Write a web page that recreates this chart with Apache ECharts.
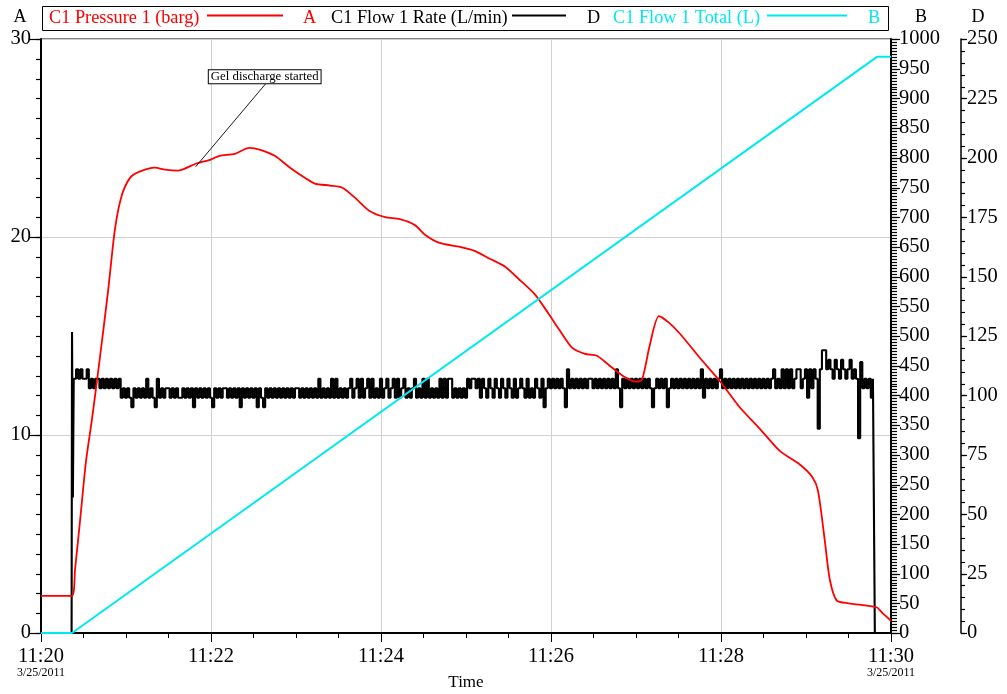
<!DOCTYPE html>
<html><head><meta charset="utf-8">
<script src="https://cdn.jsdelivr.net/npm/echarts/dist/echarts.min.js"></script>
<style>html,body{margin:0;padding:0;background:#fff}#c{width:1007px;height:694px}</style>
</head><body><div id="c"></div>
<script>
// ---------- data ----------
const seriesNames = ['C1 Pressure 1 (barg)', 'C1 Flow 1 Rate (L/min)', 'C1 Flow 1 Total (L)'];
const seriesAxisLetters = ['A', 'D', 'B'];
const xTickLabels = ['11:20', '11:22', '11:24', '11:26', '11:28', '11:30'];
const dateLabel = '3/25/2011';
const xAxisTitle = 'Time';

// minutes after 11:20
const pressureTimes = [0, 0.36, 0.40, 0.46, 0.53, 0.60, 0.69, 0.79, 0.87, 0.95, 1.05, 1.16, 1.34, 1.46, 1.61, 1.82, 1.99, 2.10, 2.28, 2.45, 2.58, 2.75, 2.93, 3.10, 3.22, 3.40, 3.54, 3.69, 3.87, 4.05, 4.22, 4.40, 4.52, 4.69, 4.93, 5.10, 5.28, 5.46, 5.64, 5.81, 5.96, 6.10, 6.25, 6.40, 6.54, 6.69, 6.84, 6.99, 7.07, 7.16, 7.27, 7.38, 7.52, 7.75, 7.99, 8.22, 8.46, 8.69, 8.93, 9.07, 9.14, 9.22, 9.28, 9.36, 9.50, 9.83, 9.90, 10];
const pressureValues = [1.87, 1.87, 3.2, 5.7, 8.7, 10.8, 13.8, 17.3, 20.4, 22.1, 23.0, 23.3, 23.5, 23.4, 23.35, 23.7, 23.9, 24.1, 24.2, 24.5, 24.4, 24.1, 23.5, 23.0, 22.7, 22.6, 22.5, 22.0, 21.3, 21.0, 20.9, 20.6, 20.1, 19.7, 19.5, 19.3, 18.9, 18.5, 17.8, 17.1, 16.2, 15.3, 14.4, 14.1, 14.0, 13.5, 13.0, 12.7, 12.8, 14.5, 16.0, 15.7, 15.1, 13.9, 12.7, 11.4, 10.3, 9.2, 8.5, 7.9, 7.2, 4.7, 2.7, 1.65, 1.5, 1.3, 1.0, 0.62];

const flowTotalTimes = [0, 0.365, 9.835, 10];
const flowTotalValues = [0, 0, 970, 970];

const flowRateLeadTimes = [0, 0.36, 0.37, 0.38, 0.39];
const flowRateLeadValues = [0, 0, 126.7, 57, 107];
const flowRateStart = 0.4, flowRateStep = 0.025;
const flowRateValues = [
107,111,107,111,107,107,111,103,107,103,107,107,103,107,103,107,103,107,103,107,
103,107,99,103,99,103,99,95,103,99,103,99,103,99,107,99,103,99,95,107,
99,103,99,103,103,99,103,99,103,99,99,103,99,103,99,103,95,103,99,103,
99,103,99,103,99,95,103,99,103,99,103,103,99,103,99,103,99,103,95,103,
99,103,99,103,99,103,95,103,99,95,103,99,103,99,103,99,103,99,103,99,
103,99,103,99,103,103,99,103,99,103,99,103,99,103,99,107,99,103,99,103,
99,107,99,107,99,103,99,103,99,103,107,99,103,107,99,107,99,103,107,99,
107,99,103,99,107,99,103,107,99,103,107,99,107,99,103,107,99,103,99,103,
107,99,103,99,107,99,107,99,103,99,103,99,107,99,107,99,107,107,99,103,
99,103,99,103,99,107,103,107,107,103,107,99,107,103,99,107,103,99,107,103,
99,107,103,99,107,103,99,107,99,103,107,103,99,107,99,103,99,107,103,99,
107,95,103,107,103,107,103,107,103,107,103,95,111,103,107,103,107,103,107,103,
107,103,107,107,103,107,103,107,103,107,103,107,103,107,103,111,103,95,107,103,
107,103,107,103,107,103,107,103,107,103,107,103,95,103,107,103,107,103,107,95,
103,107,103,107,103,107,103,107,103,107,103,107,103,107,103,111,99,107,103,107,
103,107,103,107,111,103,107,103,107,103,107,103,107,103,107,103,107,103,107,103,
107,103,107,103,107,103,107,103,107,111,103,107,103,111,103,111,103,111,103,107,
111,111,103,107,111,99,111,103,111,107,86,111,119,119,111,115,111,107,115,111,
107,115,111,107,111,115,107,111,107,82,114,103,107,103,107,99,107];
const flowRateTailTimes = [9.82, 10];
const flowRateTailValues = [0, 0];

const annotationText = 'Gel discharge started';
const annotationPoint = [1.82, 23.55];

// ---------- build ----------
const FONT = '"Liberation Serif", "Times New Roman", serif';
const RED = '#ff0000', BLACK = '#000000', CYAN = '#00e8f0';
const zip = (t, v) => t.map((x, i) => [x, v[i]]);
const pressureData = zip(pressureTimes, pressureValues);
const flowTotalData = zip(flowTotalTimes, flowTotalValues);
const flowRateData = zip(flowRateLeadTimes, flowRateLeadValues)
  .concat(flowRateValues.map((v, i) => [flowRateStart + i * flowRateStep, v]))
  .concat(zip(flowRateTailTimes, flowRateTailValues));

const chart = echarts.init(document.getElementById('c'), null, {renderer: 'canvas'});
const lblStyle = {fontFamily: FONT, fontSize: 20.5, color: '#000', formatter: v => String(v)};

function mainY(min, max, interval, position, offset, margin, lineW, split) {
  return {
    type: 'value', min: min, max: max, interval: interval, position: position, offset: offset,
    axisLine: {show: true, onZero: false, lineStyle: {color: '#000', width: lineW}},
    axisTick: {show: false},
    minorTick: {show: false},
    splitLine: {show: split, lineStyle: {color: '#d0d0d0', width: 1}},
    axisLabel: Object.assign({margin: margin}, lblStyle)
  };
}

const option = {
  animation: false,
  grid: {left: 41, right: 116, top: 39, bottom: 61, show: true, borderColor: '#000', borderWidth: 1},
  xAxis: {
    type: 'value', min: 0, max: 10, interval: 2,
    axisLine: {lineStyle: {color: '#000', width: 2}},
    axisTick: {length: 9, lineStyle: {color: '#000', width: 1}},
    minorTick: {show: true, splitNumber: 4, length: 5, lineStyle: {color: '#000', width: 1}},
    splitLine: {show: true, lineStyle: {color: '#d0d0d0', width: 1}},
    axisLabel: {
      margin: 14,
      formatter: function (v) {
        const lab = xTickLabels[Math.round(v / 2)];
        if (v === 0 || v === 10) return '{t|' + lab + '}\n{d|' + dateLabel + '}';
        return '{t|' + lab + '}';
      },
      rich: {
        t: {fontFamily: FONT, fontSize: 20.5, color: '#000', lineHeight: 20},
        d: {fontFamily: FONT, fontSize: 12, color: '#000', lineHeight: 12}
      }
    }
  },
  yAxis: [
    mainY(0, 30, 10, 'left', 0, 10, 2, true),        // A
    mainY(0, 1000, 50, 'right', 0, 8, 2, false),     // B
    mainY(0, 250, 25, 'right', 70, 6, 1.5, false)    // D
  ],
  series: [
    {name: seriesNames[1], type: 'line', xAxisIndex: 0, yAxisIndex: 2, data: flowRateData,
     symbol: 'none', sampling: null, step: 'middle', lineStyle: {color: BLACK, width: 2.1}, z: 2},
    {name: seriesNames[0], type: 'line', xAxisIndex: 0, yAxisIndex: 0, data: pressureData,
     symbol: 'none', smooth: 0.25, lineStyle: {color: RED, width: 1.8}, z: 3},
    {name: seriesNames[2], type: 'line', xAxisIndex: 0, yAxisIndex: 1, data: flowTotalData,
     symbol: 'none', lineStyle: {color: CYAN, width: 2}, z: 4}
  ]
};
chart.setOption(option);

// ---------- y-axis ticks (positions from the library's own scales) ----------
const graphics = [];
function px(axisIdx, xv, yv) {
  return chart.convertToPixel({xAxisIndex: 0, yAxisIndex: axisIdx}, [xv, yv]);
}
const xLeft = px(0, 0, 0)[0];
const xRight = px(0, 10, 0)[0];
function addTicks(axisIdx, min, max, step, x0, len) {
  const n = Math.round((max - min) / step);
  for (let k = 0; k <= n; k++) {
    const y = Math.round(px(axisIdx, 0, min + k * step)[1]) + 0.5;
    graphics.push({type: 'line', shape: {x1: x0, y1: y, x2: x0 + len, y2: y},
      style: {stroke: '#000', lineWidth: 1.2}, z: 12});
  }
}
addTicks(0, 0, 30, 1, xLeft - 1, -4);
addTicks(0, 0, 30, 10, xLeft - 1, -10);
addTicks(1, 0, 1000, 5, xRight + 1, 5);
addTicks(1, 0, 1000, 50, xRight + 1, 8);
addTicks(2, 0, 250, 5, xRight + 70, 4);
addTicks(2, 0, 250, 25, xRight + 70, 6);

// ---------- legend, axis letters, annotation ----------
const p = px(0, annotationPoint[0], annotationPoint[1]);
const boxAnchor = [p[0] + 70, p[1] - 83];
const legFont = '18.3px ' + FONT;
const colors = [RED, BLACK, CYAN];
const legendLayout = [  // [textX, lineX1, lineX2, letterX]
  [49, 207, 283, 303],
  [331, 512, 566, 587],
  [613, 767, 847, 868]
];
graphics.push({type: 'rect', shape: {x: 42.5, y: 6.5, width: 846, height: 24}, style: {fill: '#fff', stroke: '#000', lineWidth: 1}, z: 10});
legendLayout.forEach((L, i) => {
  graphics.push({type: 'text', x: L[0], y: 18, style: {text: seriesNames[i], font: legFont, fill: colors[i], textVerticalAlign: 'middle'}, z: 11});
  graphics.push({type: 'line', shape: {x1: L[1], y1: 15.5, x2: L[2], y2: 15.5}, style: {stroke: colors[i], lineWidth: 2}, z: 11});
  graphics.push({type: 'text', x: L[3], y: 18, style: {text: seriesAxisLetters[i], font: legFont, fill: colors[i], textVerticalAlign: 'middle'}, z: 11});
});
[['A', 20], ['B', 921], ['D', 978]].forEach(a => {
  graphics.push({type: 'text', x: a[1], y: 17, style: {text: a[0], font: '18px ' + FONT, fill: '#000', textAlign: 'center', textVerticalAlign: 'middle'}, z: 11});
});
graphics.push({type: 'text', x: 466, y: 683, style: {text: xAxisTitle, font: '17px ' + FONT, fill: '#000', textAlign: 'center', textVerticalAlign: 'middle'}, z: 11});
graphics.push({type: 'line', shape: {x1: p[0], y1: p[1], x2: boxAnchor[0], y2: boxAnchor[1]}, style: {stroke: '#000', lineWidth: 0.9}, z: 12});
graphics.push({type: 'text', x: boxAnchor[0] - 1, y: boxAnchor[1] - 7, z: 12,
  style: {text: annotationText, font: '12.8px ' + FONT, fill: '#000', textAlign: 'center', textVerticalAlign: 'middle',
          backgroundColor: '#fff', borderColor: '#000', borderWidth: 1, padding: [0, 2, 0, 2]}});
chart.setOption({graphic: graphics});
</script>
</body></html>
